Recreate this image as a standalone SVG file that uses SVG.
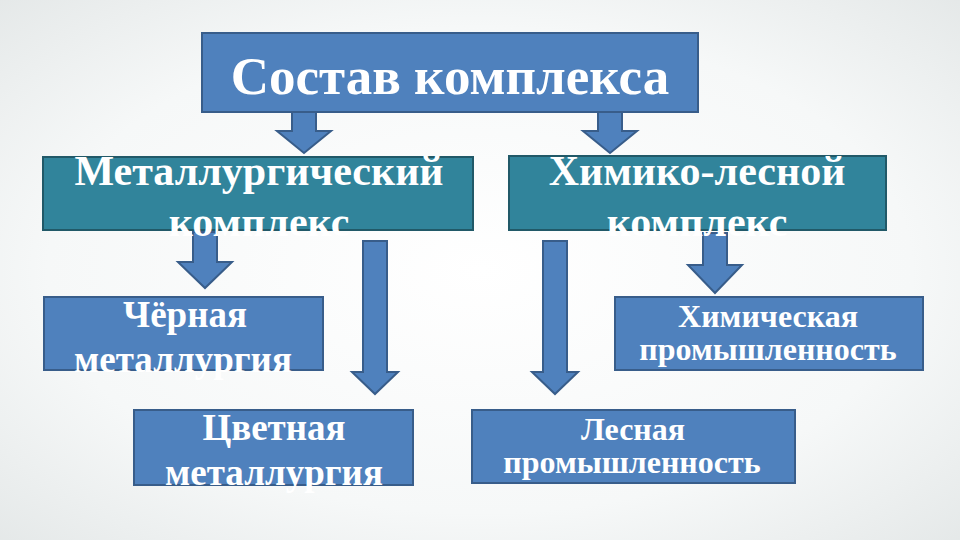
<svg xmlns="http://www.w3.org/2000/svg" width="960" height="540" viewBox="0 0 960 540">
<defs>
<radialGradient id="bg" cx="50%" cy="50%" r="75%">
<stop offset="0" stop-color="#FFFFFF"/>
<stop offset="0.6" stop-color="#F6F8F8"/>
<stop offset="1" stop-color="#E2E6E6"/>
</radialGradient>
<style>
.blue{fill:#4F81BD;stroke:#385D8A;stroke-width:2}
.teal{fill:#31849B;stroke:#215968;stroke-width:2}
.arr{fill:#4F81BD;stroke:#385D8A;stroke-width:2;stroke-linejoin:miter}
.t{font-family:"Liberation Serif","Times New Roman",serif;font-weight:bold;fill:#FFFFFF;text-anchor:middle}
</style>
</defs>
<rect x="0" y="0" width="960" height="540" fill="url(#bg)"/>
<g id="connectors">
<path class="arr" d="M292,112 L316,112 L316,131 L331,131 L304,153 L277,131 L292,131 Z"/>
<path class="arr" d="M598,112 L622,112 L622,131 L637,131 L610,153 L583,131 L598,131 Z"/>
<path class="arr" d="M193,232 L217,232 L217,262 L232,262 L205,288 L178,262 L193,262 Z"/>
<path class="arr" d="M363,241 L387,241 L387,372 L398,372 L375,394 L352,372 L363,372 Z"/>
<path class="arr" d="M543,241 L567,241 L567,372 L578,372 L555,394 L532,372 L543,372 Z"/>
<path class="arr" d="M703,233 L727,233 L727,265 L742,265 L715,293 L688,265 L703,265 Z"/>
</g>
<g id="node-sostav">
<rect class="blue" x="202" y="33" width="496" height="79"/>
<text class="t" x="450" y="94" font-size="53">Состав комплекса</text>
</g>
<g id="node-metall">
<rect class="teal" x="43" y="157" width="430" height="73"/>
<text class="t" font-size="42"><tspan x="259" y="185">Металлургический</tspan><tspan x="259" y="236">комплекс</tspan></text>
</g>
<g id="node-himles">
<rect class="teal" x="509" y="156" width="377" height="74"/>
<text class="t" font-size="42"><tspan x="697" y="185">Химико-лесной</tspan><tspan x="697" y="236">комплекс</tspan></text>
</g>
<g id="node-chernaya">
<rect class="blue" x="44" y="297" width="279" height="73"/>
<text class="t" font-size="37"><tspan x="185" y="327">Чёрная</tspan><tspan x="183" y="372">металлургия</tspan></text>
</g>
<g id="node-tsvetnaya">
<rect class="blue" x="134" y="410" width="279" height="75"/>
<text class="t" font-size="37"><tspan x="274" y="440">Цветная</tspan><tspan x="274" y="485">металлургия</tspan></text>
</g>
<g id="node-himicheskaya">
<rect class="blue" x="615" y="297" width="308" height="73"/>
<text class="t" font-size="32"><tspan x="768" y="327">Химическая</tspan><tspan x="768" y="360">промышленность</tspan></text>
</g>
<g id="node-lesnaya">
<rect class="blue" x="472" y="410" width="323" height="73"/>
<text class="t" font-size="32"><tspan x="633" y="440">Лесная</tspan><tspan x="632" y="473">промышленность</tspan></text>
</g>
</svg>
